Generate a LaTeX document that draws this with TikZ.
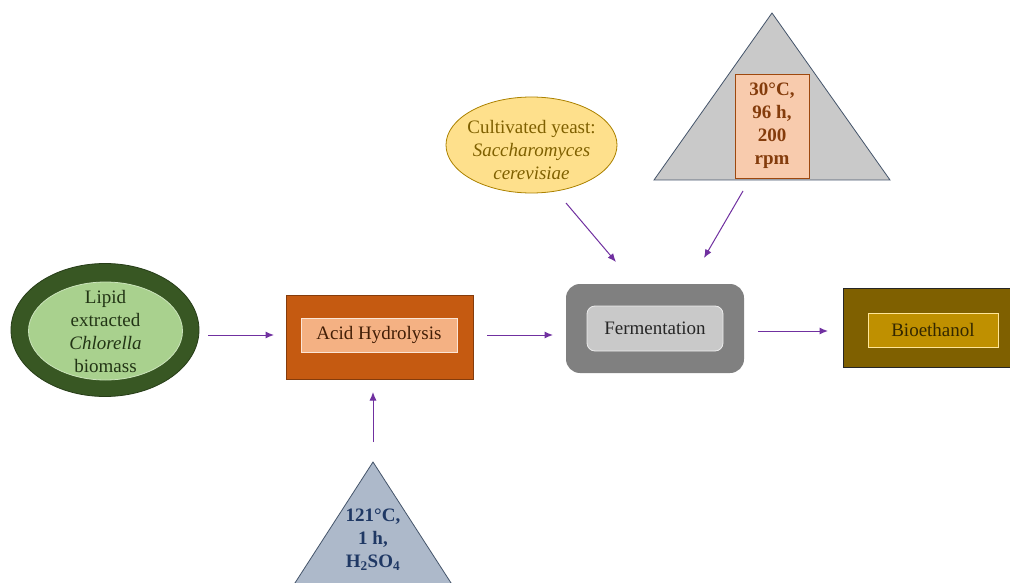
\documentclass[tikz,border=0pt]{standalone}
\usepackage{fontspec}
\setmainfont{Liberation Serif}
\usetikzlibrary{shapes.geometric,arrows.meta}
\definecolor{flow}{HTML}{7030A0}
\definecolor{gdark}{HTML}{385723}
\definecolor{glight}{HTML}{A9D18E}
\definecolor{rust}{HTML}{C55A11}
\definecolor{rustdk}{HTML}{843C0C}
\definecolor{peach}{HTML}{F4B183}
\definecolor{peachlt}{HTML}{F8CBAD}
\definecolor{greyout}{HTML}{808080}
\definecolor{greyin}{HTML}{C9C9C9}
\definecolor{goldout}{HTML}{7F6000}
\definecolor{goldin}{HTML}{BF9000}
\definecolor{goldlt}{HTML}{FFE699}
\definecolor{yeast}{HTML}{FEE08C}
\definecolor{slate}{HTML}{44546A}
\definecolor{bluegrey}{HTML}{ADB9CA}
\definecolor{navy}{HTML}{1F3864}
\tikzset{
  txt/.style={font=\fontsize{19}{23}\selectfont, align=center, inner sep=0pt},
  btxt/.style={txt, font=\fontsize{19}{23}\selectfont\bfseries},
  flowarrow/.style={draw=flow, line width=1pt, -{Latex[length=8.5pt,width=7pt]}},
}
\begin{document}
\begin{tikzpicture}[x=1pt,y=-1pt]
\useasboundingbox (0,0) rectangle (1010,583);
\fill[white] (0,0) rectangle (1010,583);

% biomass: two nested ellipses
\node (bioOut) [ellipse, fill=gdark, draw=gdark!70!black, line width=0.8pt,
  minimum width=188pt, minimum height=133pt] at (105,330) {};
\node (bioIn) [ellipse, fill=glight, draw=glight!60!white, line width=0.8pt,
  minimum width=154pt, minimum height=98pt] at (105.5,331) {};
\node (bioTxt) [txt, text=gdark!60!black] at (105.5,331)
  {Lipid\\extracted\\\textit{Chlorella}\\biomass};

% acid hydrolysis box
\node (acidOut) [fill=rust, draw=rustdk, line width=0.8pt,
  minimum width=187pt, minimum height=84pt, inner sep=0pt] at (379.5,337) {};
\node (acid) [txt, fill=peach, draw=peachlt!50!white, line width=0.8pt,
  minimum width=156pt, minimum height=34pt, text=rustdk!50!black] at (379,335) {Acid Hydrolysis};

% fermentation box
\node (fermOut) [fill=greyout, rounded corners=14pt,
  minimum width=178pt, minimum height=89pt, inner sep=0pt] at (655,328.5) {};
\node (ferm) [txt, fill=greyin, draw=white!92!black, line width=0.8pt, rounded corners=8pt,
  minimum width=136pt, minimum height=45pt, text=black!85] at (655,328.5) {Fermentation};

% bioethanol box
\node (ethOut) [fill=goldout, draw=black!85, line width=1pt,
  minimum width=168pt, minimum height=79pt, inner sep=0pt] at (927,327.5) {};
\node (eth) [txt, fill=goldin, draw=goldlt, line width=0.8pt,
  minimum width=130pt, minimum height=34pt, text=goldout!40!black] at (933,330) {Bioethanol};

% yeast ellipse
\node (yeast) [ellipse, fill=yeast, draw=goldin!90!black, line width=0.8pt,
  minimum width=171pt, minimum height=96pt] at (531.5,145) {};
\node (yeastTxt) [txt, text=goldout] at (531.5,150)
  {Cultivated yeast:\\\textit{Saccharomyces}\\\textit{cerevisiae}};

% fermentation conditions: triangle with a framed label
\path[fill=greyin, draw=slate, line width=0.8pt] (772,13) -- (890,180) -- (654,180) -- cycle;
\node (cond) [fill=peachlt, draw=rust!80!black, line width=0.8pt,
  minimum width=74pt, minimum height=104pt, inner sep=0pt] at (772,126) {};
\node (condTxt) [btxt, text=rustdk] at (772,126) {30\textdegree C,\\96 h,\\200\\rpm};

% hydrolysis conditions: triangle running off the lower edge
\begin{scope}
  \clip (0,0) rectangle (1010,583);
  \path[fill=bluegrey, draw=slate, line width=0.8pt] (373,462) -- (462,600) -- (284,600) -- cycle;
\end{scope}
\node (hyd) [btxt, text=navy] at (373,540) {121\textdegree C,\\1 h,\\H\textsubscript{2}SO\textsubscript{4}};

% connector end points
\coordinate (a1s) at (208,335);  \coordinate (a1e) at (274,335);
\coordinate (a2s) at (487,335);  \coordinate (a2e) at (553,335);
\coordinate (a3s) at (758,331);  \coordinate (a3e) at (828,331);
\coordinate (a4s) at (566,203);  \coordinate (a4e) at (616,262);
\coordinate (a5s) at (743,191);  \coordinate (a5e) at (704,258);
\coordinate (a6s) at (373,442);  \coordinate (a6e) at (373,392);

\draw[flowarrow] (a1s) -- (a1e);
\draw[flowarrow] (a2s) -- (a2e);
\draw[flowarrow] (a3s) -- (a3e);
\draw[flowarrow] (a4s) -- (a4e);
\draw[flowarrow] (a5s) -- (a5e);
\draw[flowarrow] (a6s) -- (a6e);
\end{tikzpicture}
\end{document}
